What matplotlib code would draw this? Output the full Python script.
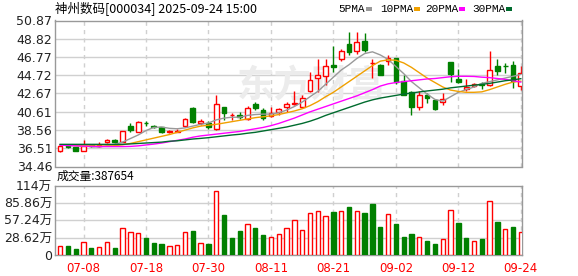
import numpy as np
import matplotlib.pyplot as plt
from matplotlib.patches import Rectangle

plt.rcParams['font.family'] = ['DejaVu Sans', 'Noto Sans CJK SC']

dates = ['07-03', '07-04', '07-07', '07-08', '07-09', '07-10', '07-11', '07-14', '07-15', '07-16',
         '07-17', '07-18', '07-21', '07-22', '07-23', '07-24', '07-25', '07-28', '07-29', '07-30',
         '07-31', '08-01', '08-04', '08-05', '08-06', '08-07', '08-08', '08-11', '08-12', '08-13',
         '08-14', '08-15', '08-18', '08-19', '08-20', '08-21', '08-22', '08-25', '08-26', '08-27',
         '08-28', '08-29', '09-01', '09-02', '09-03', '09-04', '09-05', '09-08', '09-09', '09-10',
         '09-11', '09-12', '09-15', '09-16', '09-17', '09-18', '09-19', '09-22', '09-23', '09-24']

opens = [36.17, 36.88, 36.62, 36.24, 36.85, 36.75, 37.18, 37.45, 37.25, 39.05,
         38.37, 39.35, 38.97, 38.86, 38.30, 38.35, 39.06, 41.06, 39.35, 39.40,
         38.67, 41.10, 40.20, 40.30, 39.76, 41.43, 40.76, 40.16, 40.54, 41.10,
         41.45, 41.15, 42.95, 44.42, 44.60, 45.92, 46.50, 48.23, 47.47, 48.60,
         46.10, 45.83, 46.36, 46.60, 44.10, 42.84, 41.10, 42.50, 41.90, 41.70,
         46.20, 44.35, 43.20, 43.47, 43.75, 43.66, 45.80, 45.75, 45.86, 43.54]
closes = [36.77, 36.65, 36.25, 36.77, 36.72, 36.85, 37.44, 37.25, 38.42, 38.52,
          39.49, 39.30, 38.90, 38.30, 38.45, 38.50, 39.81, 39.50, 39.60, 38.85,
          41.43, 40.50, 40.20, 40.00, 41.06, 41.00, 39.90, 40.43, 40.87, 41.50,
          41.62, 42.15, 44.22, 44.72, 45.76, 45.62, 47.44, 47.33, 48.45, 47.50,
          46.10, 44.80, 46.65, 43.95, 42.50, 41.10, 42.50, 42.20, 40.90, 42.00,
          44.90, 44.00, 43.45, 43.77, 43.65, 45.30, 45.20, 45.70, 44.10, 45.00]
highs = [36.85, 36.95, 36.65, 37.44, 37.00, 37.25, 37.50, 37.55, 38.50, 39.30,
         39.60, 39.60, 39.10, 38.95, 38.60, 38.65, 39.95, 41.10, 39.80, 39.55,
         42.50, 41.15, 40.50, 40.55, 41.28, 41.70, 41.00, 41.20, 41.00, 41.70,
         42.90, 42.50, 45.05, 46.58, 46.58, 47.99, 47.70, 49.60, 49.60, 49.48,
         46.58, 46.00, 47.00, 46.65, 44.72, 43.00, 42.90, 42.75, 41.95, 42.77,
         46.25, 45.47, 44.30, 43.90, 44.00, 47.47, 46.58, 46.10, 46.30, 45.70]
lows = [36.10, 36.58, 36.15, 36.20, 36.65, 36.69, 37.15, 37.10, 37.20, 38.30,
        38.30, 39.05, 38.75, 38.25, 38.20, 38.30, 38.95, 39.30, 39.15, 38.65,
        38.60, 39.70, 39.70, 39.75, 39.70, 40.85, 39.70, 40.05, 40.20, 40.60,
        41.40, 41.00, 42.85, 42.85, 43.60, 45.05, 46.30, 46.95, 47.10, 47.30,
        44.40, 44.70, 45.90, 43.75, 42.50, 40.30, 40.80, 41.60, 40.80, 41.36,
        43.96, 43.90, 42.90, 43.35, 43.20, 43.55, 44.80, 45.00, 43.25, 43.10]

ma5 = [36.90, 36.85, 36.80, 36.75, 36.70, 36.65, 36.80, 36.95, 37.20, 37.60,
       38.00, 38.50, 38.85, 38.90, 38.75, 38.70, 38.80, 39.00, 39.20, 39.35,
       39.70, 39.90, 40.00, 40.00, 40.20, 40.30, 40.35, 40.35, 40.50, 40.80,
       41.20, 41.70, 42.30, 42.90, 43.70, 44.50, 45.30, 45.90, 46.60, 47.15,
       47.35, 47.00, 46.50, 45.70, 44.90, 44.00, 43.30, 42.60, 42.00, 41.80,
       42.30, 42.80, 43.10, 43.40, 43.80, 44.00, 44.20, 44.40, 44.60, 44.80]
ma10 = [36.85, 36.85, 36.82, 36.80, 36.78, 36.75, 36.75, 36.80, 36.90, 37.05,
        37.25, 37.45, 37.65, 37.85, 38.05, 38.30, 38.55, 38.80, 39.00, 39.10,
        39.20, 39.35, 39.50, 39.65, 39.80, 39.95, 40.05, 40.15, 40.30, 40.50,
        40.70, 40.95, 41.30, 41.75, 42.30, 42.80, 43.40, 44.00, 44.60, 45.20,
        45.80, 46.30, 46.45, 46.40, 46.10, 45.60, 45.00, 44.40, 43.90, 43.40,
        43.05, 42.90, 42.80, 42.80, 42.85, 43.10, 43.40, 43.70, 43.95, 44.05]
ma20 = [36.85, 36.82, 36.78, 36.75, 36.72, 36.70, 36.70, 36.70, 36.70, 36.72,
        36.78, 36.88, 36.98, 37.10, 37.25, 37.40, 37.55, 37.75, 37.90, 38.00,
        38.10, 38.20, 38.30, 38.40, 38.55, 38.70, 38.85, 39.05, 39.30, 39.60,
        39.90, 40.25, 40.60, 40.90, 41.20, 41.50, 41.80, 42.10, 42.40, 42.75,
        43.10, 43.50, 43.75, 43.90, 44.00, 44.10, 44.20, 44.30, 44.35, 44.45,
        44.55, 44.60, 44.60, 44.58, 44.50, 44.45, 44.35, 44.25, 44.10, 43.95]
ma30 = [36.95, 36.95, 36.95, 36.95, 36.95, 36.95, 36.95, 36.95, 36.95, 37.00,
        37.05, 37.10, 37.15, 37.20, 37.30, 37.35, 37.45, 37.55, 37.62, 37.70,
        37.80, 37.90, 38.00, 38.08, 38.20, 38.30, 38.45, 38.60, 38.75, 38.90,
        39.10, 39.30, 39.55, 39.85, 40.20, 40.50, 40.80, 41.10, 41.40, 41.70,
        41.95, 42.15, 42.30, 42.45, 42.60, 42.72, 42.84, 42.95, 43.05, 43.15,
        43.30, 43.40, 43.50, 43.60, 43.70, 43.80, 43.95, 44.10, 44.20, 44.33]

# volume in 万 shares
volume = [14.9, 15.5, 9.9, 21.0, 11.6, 12.7, 21.0, 11.6, 44.0, 38.0,
          36.3, 28.0, 19.8, 18.2, 14.3, 16.0, 38.0, 39.7, 19.3, 18.2,
          105.0, 66.0, 28.0, 39.7, 50.7, 44.6, 32.5, 29.2, 34.2, 44.0,
          57.3, 40.8, 69.0, 72.0, 64.0, 71.0, 72.0, 78.8, 72.0, 69.4,
          84.0, 46.3, 67.7, 51.2, 29.7, 34.7, 29.2, 23.1, 18.2, 26.0,
          73.8, 52.9, 28.0, 23.0, 26.4, 88.7, 54.5, 42.4, 46.3, 38.7654]

price_ticks = [34.46, 36.51, 38.56, 40.61, 42.67, 44.72, 46.77, 48.82, 50.87]
vol_ticks = [0, 28.62, 57.24, 85.86, 114]
vol_tick_labels = ['0', '28.62万', '57.24万', '85.86万', '114万']
ma_names = ['5PMA', '10PMA', '20PMA', '30PMA']
ma_colors = ['#999999', '#f0a000', '#ff00ff', '#006b2e']

RED = '#ff0000'
GREEN = '#008000'
GRID = '#d0d0d0'
BORDER = '#999999'

opens = np.array(opens)
closes = np.array(closes)
x = np.arange(len(closes))
up = closes >= opens
cols = np.where(up, RED, GREEN)
# volume colour follows close vs previous close
vup = np.concatenate([[up[0]], closes[1:] >= closes[:-1]])
vcols = np.where(vup, RED, GREEN)

W, H = 578, 276
fig = plt.figure(figsize=(W / 100, H / 100), dpi=100)


def box(l, t, r, b):
    return [l / W, 1 - b / H, (r - l) / W, (b - t) / H]


ax = fig.add_axes(box(55, 20.5, 522, 166.5))
axv = fig.add_axes(box(55, 186, 522, 255))

ticks_x = x[3::8]
for a in (ax, axv):
    a.set_xlim(-0.65, len(x) - 0.85)
    for t in ticks_x:
        a.axvline(t, color=GRID, lw=1, ls=(0, (3, 3)), zorder=0)
    for s in a.spines.values():
        s.set_color(BORDER)
        s.set_linewidth(1)
    a.tick_params(length=0, labelsize=9, colors='#222222', pad=2)

# price panel
ax.set_ylim(price_ticks[0], price_ticks[-1])
ax.set_yticks(price_ticks)
ax.set_yticklabels([f'{v:.2f}' for v in price_ticks])
for v in price_ticks[1:-1]:
    ax.axhline(v, color=GRID, lw=1, zorder=0)
ax.set_xticks([])
ax.text(0.55, 0.55, '东方财富', transform=ax.transAxes, ha='center', va='center',
        fontsize=27, fontweight='bold', color='#ececec', family=['Noto Sans CJK SC'], zorder=0)

ax.vlines(x, lows, highs, colors=cols, lw=1, zorder=2)
body_h = np.maximum(np.abs(closes - opens), 0.03)
ax.bar(x, body_h, bottom=np.minimum(opens, closes), width=0.6,
       facecolor=np.where(up, 'white', GREEN), edgecolor=cols, lw=1, zorder=3)
for m, c in zip([ma5, ma10, ma20, ma30], ma_colors):
    ax.plot(x, m, color=c, lw=1, zorder=4)

# volume panel
axv.set_ylim(0, vol_ticks[-1])
axv.set_yticks(vol_ticks)
axv.set_yticklabels(vol_tick_labels)
for v in vol_ticks[1:-1]:
    axv.axhline(v, color=GRID, lw=1, zorder=0)
axv.bar(x, volume, width=0.55, facecolor=np.where(vup, 'white', GREEN),
        edgecolor=vcols, lw=1, zorder=3)
axv.set_xticks(ticks_x)
axv.set_xticklabels([dates[i] for i in ticks_x], color=RED, fontsize=8.5)
axv.tick_params(axis='x', pad=5, colors=RED)

fig.text(57 / W, 1 - 176 / H, f'成交量:{volume[-1] * 10000:.0f}', fontsize=8.5,
         va='center', ha='left', family=['Noto Sans CJK SC', 'DejaVu Sans'])
fig.text(55 / W, 1 - 9 / H, '神州数码[000034] 2025-09-24 15:00', fontsize=9,
         va='center', ha='left', family=['Noto Sans CJK SC', 'DejaVu Sans'])

lx = [338, 380, 425, 472]
for px, name, c in zip(lx, ma_names, ma_colors):
    t = fig.text(px / W, 1 - 9 / H, name, fontsize=8, va='center', ha='left',
                 family=['Liberation Mono', 'DejaVu Sans'])
    sx = px + len(name) * 6.2 + 3
    fig.patches.append(Rectangle((sx / W, 1 - 11 / H), 6 / W, 4 / H, transform=fig.transFigure,
                                 facecolor=c, edgecolor='none'))

fig.savefig('out.png', dpi=100)
